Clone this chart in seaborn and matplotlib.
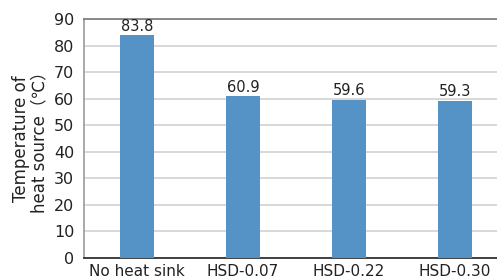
import matplotlib
matplotlib.use("Agg")
import pandas as pd
import seaborn as sns
from matplotlib import pyplot as plt

categories = ["No heat sink", "HSD-0.07", "HSD-0.22", "HSD-0.30"]
temps = [83.8, 60.9, 59.6, 59.3]
value_labels = ["83.8", "60.9", "59.6", "59.3"]
yticks = [0, 10, 20, 30, 40, 50, 60, 70, 80, 90]

sns.set_style("white")
plt.rcParams["font.family"] = ["DejaVu Sans", "Noto Sans CJK JP"]

df = pd.DataFrame({"cat": categories, "temp": temps})

fig = plt.figure(figsize=(4.97, 2.8), dpi=100)
# axes runs past the right edge like the original crop
ax = fig.add_axes([84 / 497, 22 / 280, 424 / 497, 239 / 280])
sns.barplot(data=df, x="cat", y="temp", color="#5592c6", saturation=1,
            width=0.32, linewidth=0, edgecolor="none", ax=ax, zorder=3)
ax.set_xlim(-0.5, 3.5)
ax.set_ylim(0, 90)
ax.set_yticks(yticks)
ax.yaxis.grid(True, color="#d6d6d6", linewidth=1.3, zorder=0)
ax.set_axisbelow(True)

for i, (v, lab) in enumerate(zip(temps, value_labels)):
    ax.text(i, v + 0.6, lab, ha="center", va="bottom", fontsize=10.5, color="#222222")

ax.set_xlabel("")
ax.set_ylabel("Temperature of\nheat source（℃）", fontsize=12, color="#222222",
              linespacing=1.0, labelpad=4)
ax.tick_params(axis="y", length=0, labelsize=11.5, labelcolor="#222222", pad=7)
ax.tick_params(axis="x", length=0, labelsize=11, labelcolor="#222222", pad=4)

ax.spines["left"].set_color("#9a9a9a")
ax.spines["left"].set_linewidth(1.2)
ax.spines["bottom"].set_color("#333333")
ax.spines["bottom"].set_linewidth(1.3)
ax.spines["top"].set_color("#777777")
ax.spines["top"].set_linewidth(1.2)
ax.spines["right"].set_visible(False)

fig.savefig("out.png", dpi=100)
